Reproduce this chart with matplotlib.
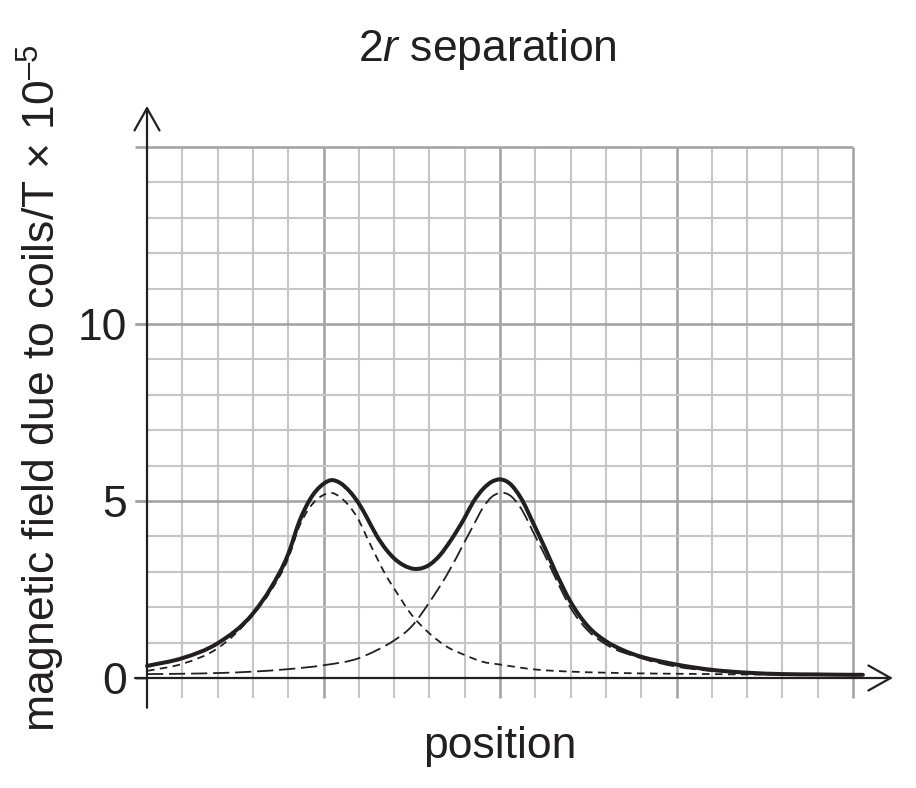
import matplotlib
matplotlib.use('Agg')
import matplotlib.pyplot as plt
from matplotlib.path import Path
from matplotlib.patches import PathPatch

plt.rcParams['font.family'] = ['Liberation Sans', 'DejaVu Sans']
plt.rcParams['mathtext.fontset'] = 'custom'
plt.rcParams['mathtext.rm'] = 'Liberation Sans'
plt.rcParams['mathtext.it'] = 'Liberation Sans:italic'
plt.rcParams['mathtext.bf'] = 'Liberation Sans:bold'

# ---- data (grid units: x = small squares, y = field / 1e-5 T) ----
total_x = [0, 1, 2, 3, 3.5, 4.0, 4.33, 4.62, 4.98, 5.23, 5.47, 5.75, 6.0, 6.22, 6.5,
           6.79, 7.0, 7.26, 7.62, 8.02, 8.3, 8.58, 8.99, 9.24, 9.53, 9.76, 10.0,
           10.28, 10.57, 11.0, 11.27, 11.56, 12.0, 12.5, 13.0, 13.5, 14.0, 14.5,
           15.0, 16.0, 17.0, 18.0, 19.0, 20.0, 20.28]
total_y = [0.34, 0.56, 0.98, 1.82, 2.53, 3.5, 4.46, 5.05, 5.47, 5.59, 5.51, 5.26, 4.93,
           4.55, 4.03, 3.61, 3.38, 3.19, 3.08, 3.21, 3.47, 3.85, 4.51, 4.97, 5.35,
           5.54, 5.61, 5.49, 5.12, 4.25, 3.68, 3.03, 2.15, 1.45, 1.04, 0.78, 0.60,
           0.48, 0.38, 0.23, 0.15, 0.11, 0.10, 0.09, 0.09]

coil1_x = [0, 1, 2, 3, 3.5, 4.0, 4.33, 4.62, 4.98, 5.23, 5.47, 5.75, 6.0, 6.22, 6.5,
           6.79, 7.0, 7.5, 8.0, 8.5, 9.0, 9.5, 10.0, 11.0, 12.0, 13.0, 14.0, 15.0,
           16.0, 17.0, 18.0, 20.28]
coil1_y = [0.2, 0.4, 0.84, 1.78, 2.45, 3.38, 4.32, 4.83, 5.16, 5.23, 5.11, 4.83, 4.46,
           3.99, 3.42, 2.86, 2.53, 1.78, 1.26, 0.88, 0.65, 0.46, 0.38, 0.24, 0.18,
           0.15, 0.13, 0.12, 0.11, 0.10, 0.10, 0.10]

coil2_x = [0, 1, 2, 3, 4, 5, 6, 6.5, 7, 7.5, 8, 8.5, 9, 9.24, 9.53, 9.76, 10.0,
           10.28, 10.57, 11.0, 11.27, 11.56, 12.0, 12.5, 13.0, 14.0, 15.0, 16.0,
           17.0, 18.0, 19.0, 20.28]
coil2_y = [0.11, 0.12, 0.14, 0.18, 0.25, 0.36, 0.56, 0.78, 1.06, 1.46, 2.14, 2.92, 3.85,
           4.3, 4.83, 5.11, 5.23, 5.16, 4.83, 4.0, 3.47, 2.85, 1.98, 1.33, 0.95,
           0.56, 0.32, 0.20, 0.14, 0.11, 0.10, 0.10]

y_ticks = [0, 5, 10]
y_tick_labels = ['0', '5', '10']
title = '2$\\it{r}$ separation'
x_label = 'position'
y_label = 'magnetic field due to coils/T \u00d7 10$^{\u2013 5}$'

INK = '#231f20'
MINOR = '#c6c6c6'
MAJOR = '#a4a4a4'


def smooth_path(xs, ys):
    """Cubic Bezier path passing through the data points (Hermite tangents)."""
    n = len(xs)
    m = []
    for i in range(n):
        if i == 0:
            m.append((ys[1] - ys[0]) / (xs[1] - xs[0]))
        elif i == n - 1:
            m.append((ys[-1] - ys[-2]) / (xs[-1] - xs[-2]))
        else:
            h0 = xs[i] - xs[i - 1]
            h1 = xs[i + 1] - xs[i]
            d0 = (ys[i] - ys[i - 1]) / h0
            d1 = (ys[i + 1] - ys[i]) / h1
            m.append((d0 * h1 + d1 * h0) / (h0 + h1))
    verts = [(xs[0], ys[0])]
    codes = [Path.MOVETO]
    for i in range(n - 1):
        h = xs[i + 1] - xs[i]
        verts += [(xs[i] + h / 3, ys[i] + m[i] * h / 3),
                  (xs[i + 1] - h / 3, ys[i + 1] - m[i + 1] * h / 3),
                  (xs[i + 1], ys[i + 1])]
        codes += [Path.CURVE4] * 3
    return Path(verts, codes)


fig = plt.figure(figsize=(9.16, 7.88), dpi=100)
ax = fig.add_axes([147 / 916, 110 / 788, 706 / 916, 531 / 788])
ax.set_xlim(0, 20)
ax.set_ylim(0, 15)
for s in ax.spines.values():
    s.set_visible(False)
ax.set_xticks([])
ax.set_yticks(y_ticks)
ax.set_yticklabels(y_tick_labels)
ax.tick_params(axis='y', length=8.6, width=1.9, color=MAJOR, labelcolor=INK,
               labelsize=32, pad=5.8)

# grid
for i in range(1, 21):
    major = i % 5 == 0
    ax.vlines(i, -0.565, 15, colors=MAJOR if major else MINOR,
              lw=1.9 if major else 1.5, clip_on=False, zorder=1)
for j in range(1, 16):
    major = j % 5 == 0
    ax.hlines(j, -0.34 if major else 0, 20, colors=MAJOR if major else MINOR,
              lw=1.9 if major else 1.5, clip_on=False, zorder=1)

# axes with open arrowheads
arrow = dict(arrowstyle='->,head_length=0.8,head_width=0.45', lw=1.6, color=INK,
             shrinkA=0, shrinkB=0, mutation_scale=20)
ax.annotate('', xy=(21.13, 0), xytext=(-0.34, 0), arrowprops=arrow,
            annotation_clip=False, zorder=2)
ax.annotate('', xy=(0, 16.16), xytext=(0, -0.84), arrowprops=arrow,
            annotation_clip=False, zorder=2)

# curves
ax.add_patch(PathPatch(smooth_path(coil1_x, coil1_y), fill=False, edgecolor=INK,
                       lw=1.3, linestyle=(0, (4.2, 3.0)), clip_on=False, zorder=3))
ax.add_patch(PathPatch(smooth_path(coil2_x, coil2_y), fill=False, edgecolor=INK,
                       lw=1.3, linestyle=(0, (9.0, 3.2)), clip_on=False, zorder=3))
ax.add_patch(PathPatch(smooth_path(total_x, total_y), fill=False, edgecolor=INK,
                       lw=2.9, capstyle='round', joinstyle='round', clip_on=False,
                       zorder=4))

# texts
fig.text(487 / 916, 1 - 61 / 788, title, fontsize=32, color=INK, ha='center',
         va='baseline')
fig.text(500 / 916, 1 - 758 / 788, x_label, fontsize=32, color=INK, ha='center',
         va='baseline')
fig.text(56 / 916, 1 - 388 / 788, y_label, fontsize=32, color=INK, ha='center',
         va='baseline', rotation=90, rotation_mode='anchor')

fig.savefig('out.png', dpi=100)
